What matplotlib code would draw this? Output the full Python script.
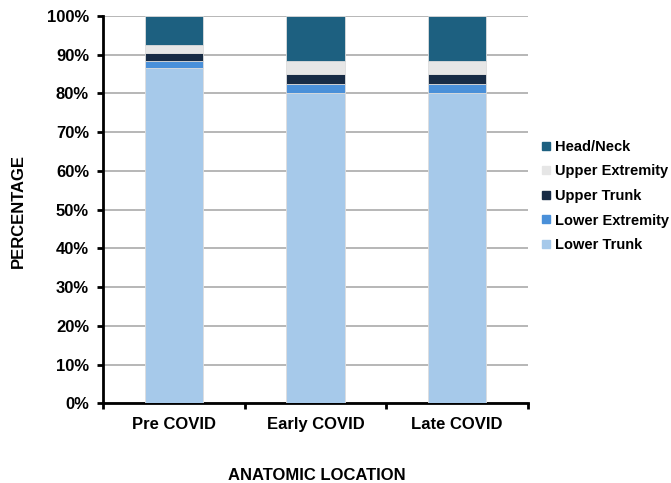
import matplotlib
matplotlib.use("Agg")
import matplotlib.pyplot as plt
import numpy as np
from matplotlib.lines import Line2D

plt.rcParams['font.family'] = ['Liberation Sans', 'DejaVu Sans']
plt.rcParams['font.weight'] = 'bold'

categories = ["Pre COVID", "Early COVID", "Late COVID"]
series_names = ["Lower Trunk", "Lower Extremity", "Upper Trunk", "Upper Extremity", "Head/Neck"]
lower_trunk = [86.5, 80.1, 80.1]
lower_extremity = [1.8, 2.3, 2.3]
upper_trunk = [2.1, 2.5, 2.5]
upper_extremity = [2.1, 3.6, 3.6]
head_neck = [7.5, 11.5, 11.5]
colors = ["#a6c9ea", "#4a90d9", "#172b45", "#e6e6e6", "#1d6080"]
yticks = [0, 10, 20, 30, 40, 50, 60, 70, 80, 90, 100]

series = [lower_trunk, lower_extremity, upper_trunk, upper_extremity, head_neck]

fig = plt.figure(figsize=(6.71, 4.83), dpi=100)
ax = fig.add_axes([0.1535, 0.1646, 0.787 - 0.1535, 0.967 - 0.1646])

x = np.arange(len(categories))
bottom = np.zeros(len(categories))
for vals, col in zip(series, colors):
    ax.bar(x, vals, bottom=bottom, width=0.41, color=col, edgecolor="#dddddd", linewidth=0.6, zorder=3)
    bottom += np.array(vals)

ax.set_xlim(-0.5, 2.5)
ax.set_ylim(0, 100)
ax.set_yticks(yticks)
ax.set_yticklabels([f"{v}%" for v in yticks], fontsize=12, fontweight='bold')
ax.set_xticks([-0.5, 0.5, 1.5, 2.5], minor=False)
ax.set_xticklabels([])
ax.set_xticks(x, minor=True)
ax.set_xticklabels(categories, minor=True, fontsize=12, fontweight='bold')
ax.tick_params(axis='x', which='minor', length=0, pad=10)
ax.tick_params(axis='x', which='major', length=4, width=2, direction='out')
ax.tick_params(axis='y', length=4, width=2, direction='out', pad=6)

ax.yaxis.grid(True, color="#aaaaaa", linewidth=1.2, zorder=0)
ax.set_axisbelow(True)
for s in ['top', 'right']:
    ax.spines[s].set_visible(False)
for s in ['left', 'bottom']:
    ax.spines[s].set_linewidth(2)
    ax.spines[s].set_color('black')

fig.text(18 / 671, 1 - 211 / 483, "PERCENTAGE", ha='center', va='center', rotation=90,
         fontsize=12, fontweight='bold')
fig.text(317 / 671, 1 - 476 / 483, "ANATOMIC LOCATION", ha='center', va='center', fontsize=12, fontweight='bold')

handles = [Line2D([], [], marker='s', linestyle='none', markersize=6, markerfacecolor=c, markeredgecolor=c)
           for c in colors[::-1]]
labels = series_names[::-1]
fig.legend(handles, labels, loc='center left', bbox_to_anchor=(0.799, 1 - 196 / 483), frameon=False,
           prop={'size': 10.5, 'weight': 'bold'}, handlelength=0.6, handletextpad=0.3, labelspacing=0.72,
           borderaxespad=0)

fig.savefig("out.png", dpi=100)
